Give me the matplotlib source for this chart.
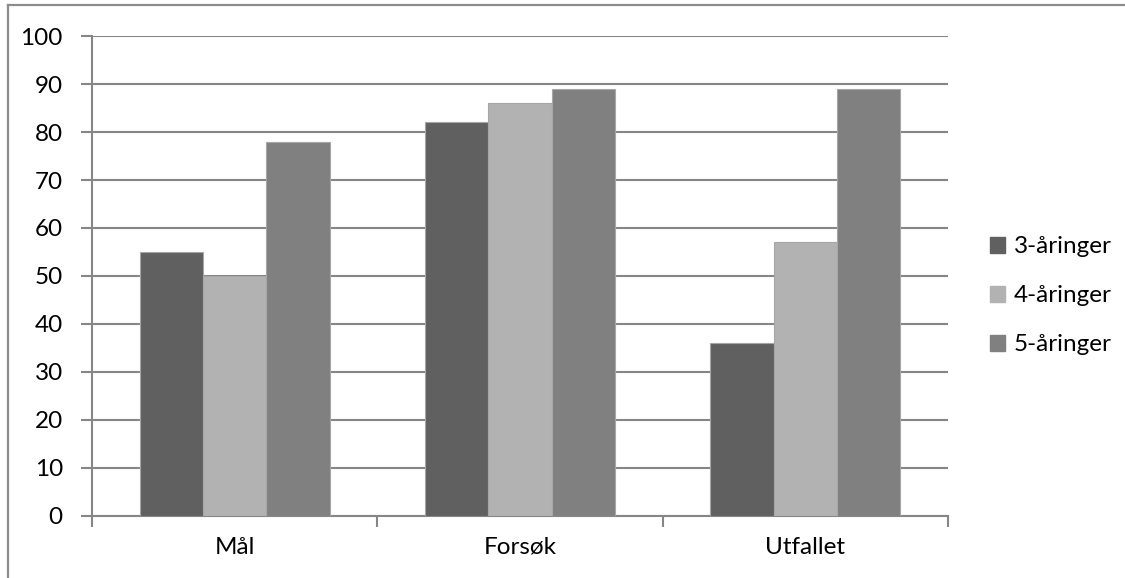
import matplotlib.pyplot as plt
import matplotlib.patches as mpatches
import matplotlib.lines as mlines
import numpy as np

#### Data
categories = ['Mål', 'Forsøk', 'Utfallet']
series_names = ['3-åringer', '4-åringer', '5-åringer']
vals_3 = [55, 82, 36]
vals_4 = [50, 86, 57]
vals_5 = [78, 89, 89]
colors = ['#606060', '#b2b2b2', '#808080']

plt.rcParams['font.family'] = ['Lato', 'DejaVu Sans']
fs = 17.5

fig = plt.figure(figsize=(11.25, 5.78), dpi=100)
ax = fig.add_axes([0.0818, 0.1073, 0.8427 - 0.0818, 0.9377 - 0.1073])

## chart border (only top and left are visible, the picture is cropped)
W, H = 1125, 578
fig.lines.append(mlines.Line2D([8 / W, 8 / W], [0, 1 - 5 / H], transform=fig.transFigure,
                               color='#8c8c8c', linewidth=1.6))
fig.lines.append(mlines.Line2D([8 / W, 1.01], [1 - 5 / H, 1 - 5 / H], transform=fig.transFigure,
                               color='#8c8c8c', linewidth=1.6))

x = np.arange(len(categories))
w = 1.0 / 4.5   # gap width 150%
for i, (vals, name) in enumerate(zip([vals_3, vals_4, vals_5], series_names)):
    ax.bar(x + (i - 1) * w, vals, width=w, color=colors[i], edgecolor='#a6a6a6',
           linewidth=0.8, label=name, zorder=3)

ax.set_xlim(-0.5, len(categories) - 0.5)
ax.set_ylim(0, 100)
ax.set_yticks(range(0, 101, 10))
ax.yaxis.grid(True, color='#868686', linewidth=1.5, zorder=0)
ax.set_xticks(x)
ax.set_xticklabels(categories, fontsize=fs)
ax.set_xticks(np.arange(-0.5, len(categories)), minor=True)
ax.tick_params(axis='x', which='major', length=0, pad=15)
ax.tick_params(axis='x', which='minor', length=8, width=1.5, color='#868686')
ax.tick_params(axis='y', length=8, width=1.5, color='#868686', labelsize=fs, pad=13)

for s in ['top', 'right']:
    ax.spines[s].set_visible(False)
for s in ['left', 'bottom']:
    ax.spines[s].set_color('#868686')
    ax.spines[s].set_linewidth(1.5)

handles = [mpatches.Patch(color=c) for c in colors]
ax.legend(handles, series_names, loc='center left', bbox_to_anchor=(0.880, 0.488),
          bbox_transform=fig.transFigure, frameon=False, fontsize=fs,
          handlelength=0.62, handleheight=0.62, handletextpad=0.35, labelspacing=1.15,
          borderpad=0, borderaxespad=0)

plt.savefig('out.png', dpi=100)
